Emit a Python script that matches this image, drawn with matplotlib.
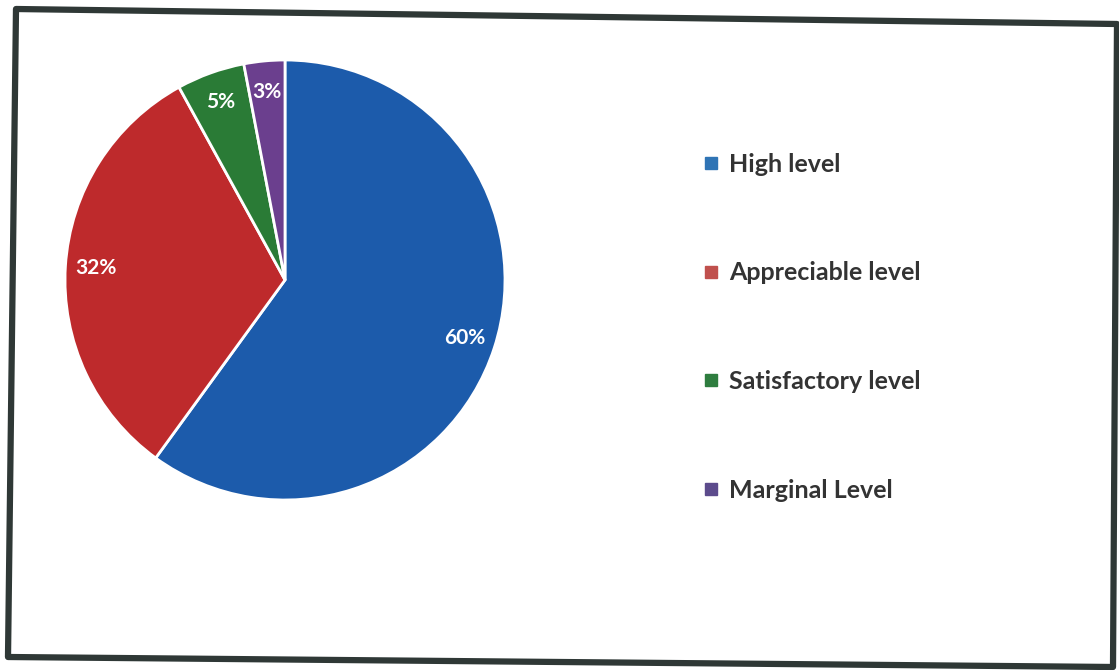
import matplotlib
matplotlib.use('Agg')
import matplotlib.pyplot as plt
from matplotlib.lines import Line2D
from matplotlib.patches import Polygon

# data
labels = ['High level', 'Appreciable level', 'Satisfactory level', 'Marginal Level']
shares = [60, 32, 5, 3]
pie_colors = ['#1c5bab', '#be2a2c', '#2a7b36', '#6b3f8e']
legend_colors = ['#2f74b5', '#c0504d', '#2e7d3f', '#5c4b8c']

W, H = 1119, 670
fig = plt.figure(figsize=(W / 100, H / 100), dpi=100)
fig.patch.set_facecolor('white')

# pie centred at (285, 280) px, radius 220 px
cx, cy, r = 285, 280, 220
ax = fig.add_axes([(cx - r) / W, (H - cy - r) / H, 2 * r / W, 2 * r / H])
wedges, texts, autotexts = ax.pie(
    shares, colors=pie_colors, startangle=90, counterclock=False,
    autopct='%d%%', pctdistance=0.86,
    wedgeprops=dict(edgecolor='white', linewidth=2),
    textprops=dict(color='white', fontsize=15, fontweight='bold', family='Lato'))
ax.set_xlim(-1, 1)
ax.set_ylim(-1, 1)
ax.set_aspect('equal')

# legend on the right, one item per row, wide spacing
handles = [Line2D([], [], marker='s', linestyle='none', markersize=8,
                  markerfacecolor=c, markeredgecolor=c) for c in legend_colors]
leg = fig.legend(handles, labels, loc='upper left',
                 bbox_to_anchor=(680 / W, 1 - 130 / H),
                 frameon=False, labelspacing=3.43, handletextpad=0.35,
                 handlelength=0.7,
                 prop=dict(family='Lato', weight='bold', size=18))
for t in leg.get_texts():
    t.set_color('#333333')

# slightly skewed scanned frame around the chart
corners = [(16, 9), (1117, 24), (1113, 667), (8, 657)]
frame = Polygon([(x / W, 1 - y / H) for x, y in corners], closed=True,
                fill=False, edgecolor='#2f3836', linewidth=4.5,
                transform=fig.transFigure, joinstyle='round')
fig.add_artist(frame)

fig.savefig('out.png', dpi=100, facecolor='white')
